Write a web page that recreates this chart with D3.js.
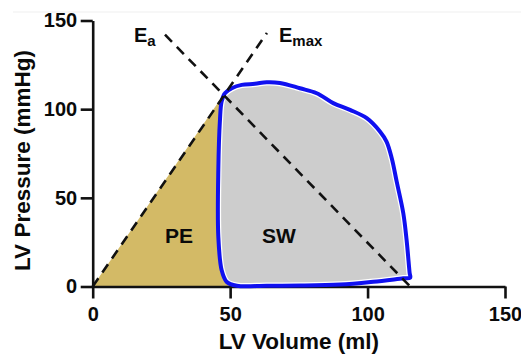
<!DOCTYPE html>
<html><head><meta charset="utf-8">
<script src="https://cdn.jsdelivr.net/npm/d3@7"></script>
<style>
html,body{margin:0;padding:0;background:#fff;}
svg{display:block;}
text{font-family:"Liberation Sans",Arial,Helvetica,sans-serif;font-weight:bold;fill:#0a0a0a;}
</style></head>
<body>
<script>
// ---- data ----
const volumeTicks = [0, 50, 100, 150];
const pressureTicks = [0, 50, 100, 150];

// pressure-volume loop (ml, mmHg)
const loopVolume = [46.9, 48.1, 50.6, 54.2, 59.0, 63.3, 68.1, 75.4, 81.5, 87.5, 93.6, 99.7, 104.5, 106.9, 108.8, 110.6,
                    113.0, 114.2, 115.3, 115.5, 113.0, 102.1, 90.0, 75.4, 63.3, 52.4, 48.7, 46.9, 45.7, 45.7, 46.3];
const loopPressure = [104.3, 109.0, 111.8, 113.7, 114.3, 115.2, 114.8, 111.8, 109.0, 103.4, 99.6, 94.9, 87.4, 81.7, 72.3, 59.1,
                      41.3, 26.2, 7.6, 5.0, 4.6, 2.7, 1.1, 0.5, 0.4, 0.4, 2.7, 9.3, 28.1, 65.7, 94.0];

// potential energy region
const peVolume = [0, 47.3, 47.6, 50];
const pePressure = [0, 107.5, 90, 0];

// Emax (ESPVR) and Ea lines
const emaxVolume = [0, 63.4];
const emaxPressure = [0, 143];
const eaVolume = [26.3, 115.5];
const eaPressure = [142, 0];

const W = 521, H = 355;
const svg = d3.select("body").append("svg").attr("width", W).attr("height", H);

const x = d3.scaleLinear().domain([0, 150]).range([92.7, 505]);
const y = d3.scaleLinear().domain([0, 150]).range([286.5, 20.5]);

// faint frame line at top
svg.append("line").attr("x1", 13).attr("x2", W).attr("y1", 12).attr("y2", 12)
  .attr("stroke", "#efefef").attr("stroke-width", 1);

const zip = (a, b) => a.map((d, i) => [d, b[i]]);
const line = d3.line().x(d => x(d[0])).y(d => y(d[1]));
const loopLine = d3.line().x(d => x(d[0])).y(d => y(d[1])).curve(d3.curveCatmullRomClosed.alpha(0.5));

// PE region
svg.append("path").attr("d", line(zip(peVolume, pePressure)) + "Z")
  .attr("fill", "#d3ba66");

// loop fill
const loopD = loopLine(zip(loopVolume, loopPressure));
svg.append("clipPath").attr("id", "loopclip").append("path").attr("d", loopD);
svg.append("path").attr("d", loopD).attr("fill", "#cdcdcd");
svg.append("path").attr("d", loopD).attr("fill", "none").attr("stroke", "#fff")
  .attr("stroke-width", 6.5).attr("clip-path", "url(#loopclip)");

// axes
const xAxis = svg.append("g").attr("transform", `translate(0,${y(0)})`)
  .call(d3.axisBottom(x).tickValues(volumeTicks).tickSize(12).tickSizeOuter(0).tickPadding(8));
const yAxis = svg.append("g").attr("transform", `translate(${x(0)},0)`)
  .call(d3.axisLeft(y).tickValues(pressureTicks).tickSize(12).tickSizeOuter(0).tickPadding(3.5));
[xAxis, yAxis].forEach(g => {
  g.select(".domain").attr("stroke", "#111").attr("stroke-width", 2.6);
  g.selectAll(".tick line").attr("stroke", "#111").attr("stroke-width", 2.6);
  g.selectAll(".tick text").style("font-size", "20px").attr("fill", "#0a0a0a")
    .style("font-family", '"Liberation Sans",Arial,sans-serif').style("font-weight", "bold");
});

// loop stroke
svg.append("path").attr("d", loopD).attr("fill", "none").attr("stroke", "#1010f0")
  .attr("stroke-width", 4).attr("stroke-linejoin", "round");

// dashed lines
svg.append("path").attr("d", line(zip(emaxVolume, emaxPressure)))
  .attr("stroke", "#111").attr("stroke-width", 2.6).attr("stroke-dasharray", "10,7").attr("fill", "none");
svg.append("path").attr("d", line(zip(eaVolume, eaPressure)))
  .attr("stroke", "#111").attr("stroke-width", 2.6).attr("stroke-dasharray", "10,7").attr("fill", "none");

// line labels
const ea = svg.append("text").attr("x", 134).attr("y", 41.5).style("font-size", "20px");
ea.append("tspan").text("E");
ea.append("tspan").attr("dy", 4.5).style("font-size", "15px").text("a");
const em = svg.append("text").attr("x", 279).attr("y", 41.5).style("font-size", "20px");
em.append("tspan").text("E");
em.append("tspan").attr("dy", 4.5).style("font-size", "15px").text("max");

// region labels
svg.append("text").attr("x", 179).attr("y", 243).attr("text-anchor", "middle").style("font-size", "21px").text("PE");
svg.append("text").attr("x", 279).attr("y", 243).attr("text-anchor", "middle").style("font-size", "21px").text("SW");

// axis titles
svg.append("text").attr("x", (x(0) + x(150)) / 2).attr("y", 349).attr("text-anchor", "middle")
  .style("font-size", "22.5px").text("LV Volume (ml)");
svg.append("text").attr("transform", `translate(29.5,${(y(0) + y(150)) / 2 + 7}) rotate(-90)`)
  .attr("text-anchor", "middle").style("font-size", "22.5px").text("LV Pressure (mmHg)");
</script>
</body></html>
